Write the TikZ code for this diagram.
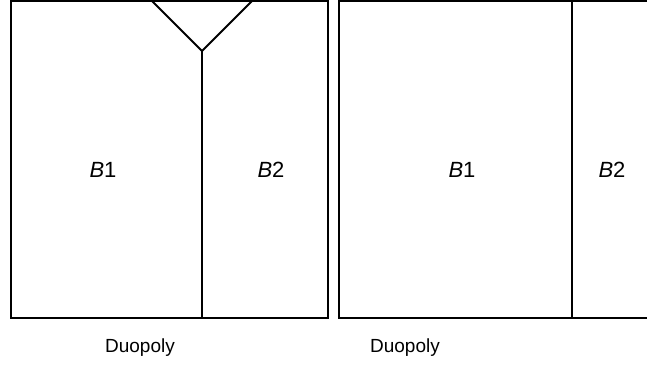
\documentclass[tikz,border=0pt]{standalone}
\usepackage{fontspec}
\setmainfont{Liberation Sans}
\begin{document}
\begin{tikzpicture}[x=1pt,y=-1pt,
  boxline/.style={line width=2pt,draw=black},
  innerline/.style={line width=1.8pt,draw=black},
  blbl/.style={font=\fontsize{22}{26}\selectfont,inner sep=0pt,anchor=center},
  lbl/.style={font=\fontsize{19}{22}\selectfont,inner sep=0pt,anchor=center}]
\useasboundingbox (0,0) rectangle (647,369);
% left panel
\draw[boxline] (11,1) rectangle (328,318);
\coordinate (apex) at (202,51);
\coordinate (vl) at (152,1);
\coordinate (vr) at (252,1);
\coordinate (lbot) at (202,318);
\draw[innerline,line join=miter] (vl) -- (apex) -- (vr);
\draw[innerline] (apex) -- (lbot);
\node[blbl] (lb1) at (103,170) {\textit{B}1};
\node[blbl] (lb2) at (271,170) {\textit{B}2};
\node[lbl] (ld) at (140,348) {Duopoly};
% right panel
\draw[boxline] (650,1) -- (339,1) -- (339,318) -- (650,318);
\coordinate (rtop) at (572,1);
\coordinate (rbot) at (572,318);
\draw[innerline] (rtop) -- (rbot);
\node[blbl] (rb1) at (462,170) {\textit{B}1};
\node[blbl] (rb2) at (612,170) {\textit{B}2};
\node[lbl] (rd) at (405,348) {Duopoly};
\end{tikzpicture}
\end{document}
